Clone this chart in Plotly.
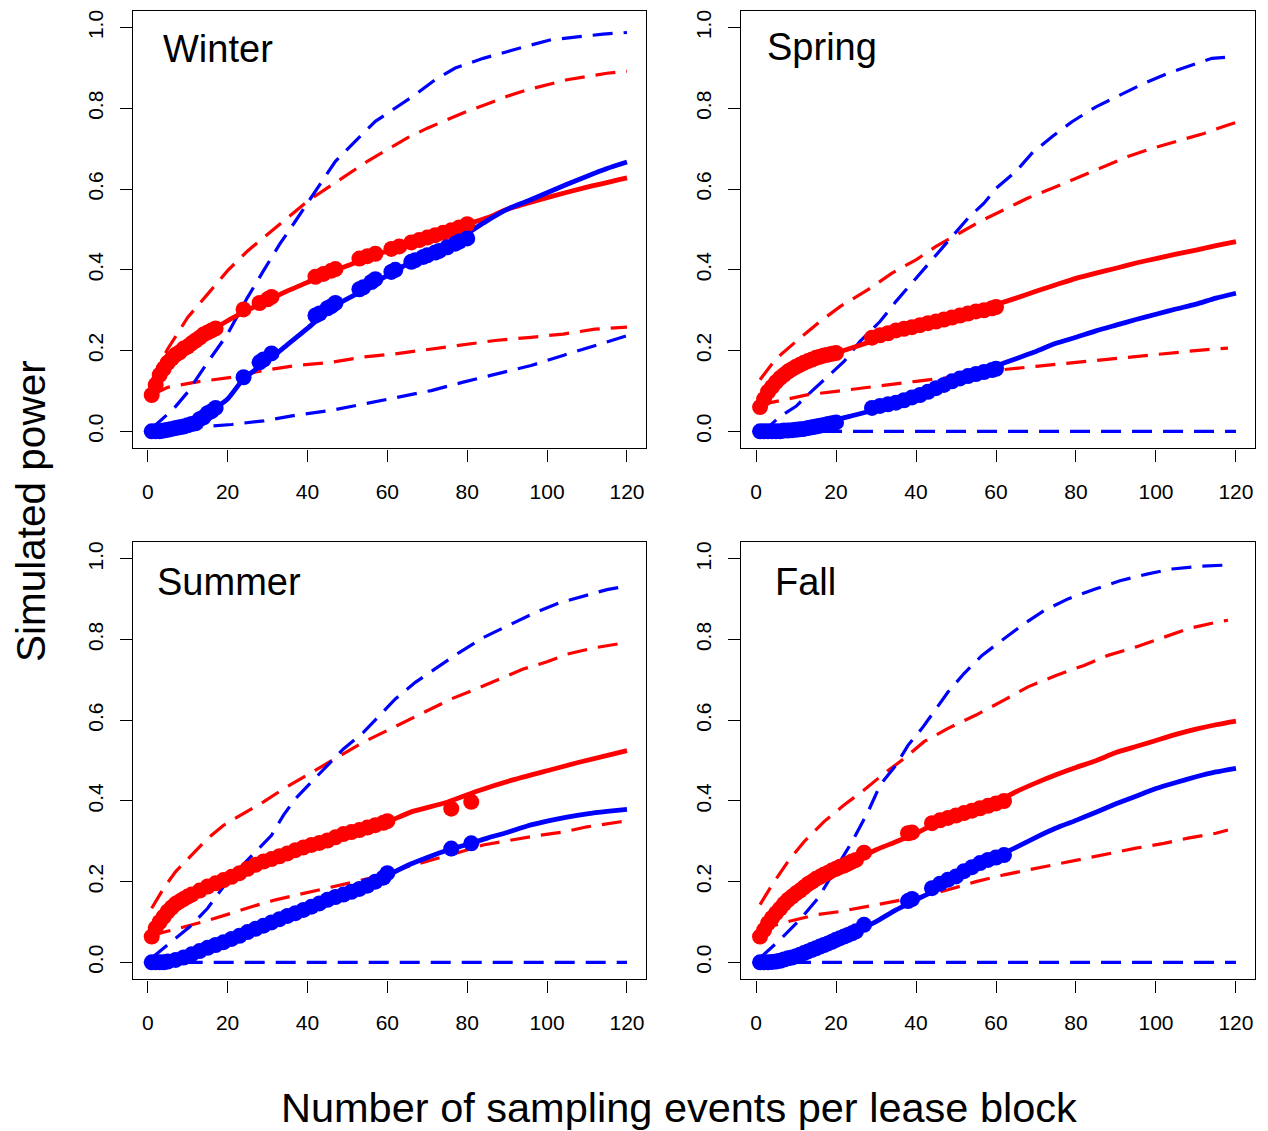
import plotly.graph_objects as go

SEASONS = ["Winter", "Spring", "Summer", "Fall"]
X_TICKS = [0, 20, 40, 60, 80, 100, 120]
Y_TICKS = [0.0, 0.2, 0.4, 0.6, 0.8, 1.0]
Y_TICK_TEXT = ["0.0", "0.2", "0.4", "0.6", "0.8", "1.0"]
X_TITLE = "Number of sampling events per lease block"
Y_TITLE = "Simulated power"

# ---------------- Winter ----------------
winter_red_x = [1, 3, 5, 8, 12, 16, 20, 25, 30, 35, 40, 45, 50, 55, 60, 65, 70, 75, 80, 85, 90, 100, 110, 120]
winter_red = [0.089, 0.14, 0.17, 0.196, 0.225, 0.25, 0.274, 0.30, 0.325, 0.348, 0.369, 0.393, 0.41, 0.43, 0.447, 0.464, 0.48, 0.496, 0.513, 0.529, 0.55, 0.579, 0.605, 0.628]
winter_blue_x = [1, 8, 15, 20, 24, 30, 35, 40, 45, 48, 55, 58, 62, 65, 70, 75, 80, 85, 90, 95, 100, 105, 110, 115, 120]
winter_blue = [0.0, 0.015, 0.045, 0.08, 0.13, 0.175, 0.215, 0.255, 0.298, 0.318, 0.355, 0.375, 0.397, 0.415, 0.435, 0.457, 0.49, 0.522, 0.55, 0.57, 0.591, 0.612, 0.632, 0.651, 0.667]
winter_red_up_x = [1, 3, 5, 8, 10, 15, 20, 25, 30, 35, 40, 45, 50, 55, 60, 65, 70, 75, 80, 85, 90, 95, 100, 105, 110, 115, 120]
winter_red_up = [0.125, 0.167, 0.204, 0.253, 0.282, 0.34, 0.398, 0.447, 0.488, 0.529, 0.57, 0.603, 0.636, 0.669, 0.698, 0.727, 0.751, 0.772, 0.793, 0.811, 0.83, 0.846, 0.858, 0.871, 0.879, 0.887, 0.892]
winter_red_lo_x = [1, 5, 12, 21, 29, 37, 46, 54, 62, 71, 79, 87, 96, 104, 112, 120]
winter_red_lo = [0.09, 0.109, 0.122, 0.134, 0.151, 0.163, 0.171, 0.184, 0.192, 0.204, 0.216, 0.225, 0.233, 0.241, 0.253, 0.258]
winter_blue_up_x = [1, 6.5, 10, 15, 20, 25, 29, 33, 37, 42, 47, 52, 57, 62, 67, 72, 77, 84, 90, 96, 101, 108, 114, 120]
winter_blue_up = [0.007, 0.056, 0.097, 0.171, 0.241, 0.332, 0.398, 0.463, 0.521, 0.595, 0.669, 0.719, 0.768, 0.801, 0.834, 0.871, 0.9, 0.924, 0.941, 0.957, 0.97, 0.978, 0.984, 0.988]
winter_blue_lo_x = [1, 12, 21, 29, 37, 46, 54, 62, 71, 79, 87, 96, 104, 112, 120]
winter_blue_lo = [0.002, 0.011, 0.017, 0.026, 0.04, 0.052, 0.068, 0.085, 0.101, 0.122, 0.142, 0.163, 0.188, 0.212, 0.237]
winter_red_pts_x = [1, 2, 3, 4, 5, 6, 7, 8, 9, 10, 11, 12, 13, 14, 15, 16, 17, 24, 28, 30, 31, 42, 44, 46, 47, 53, 55, 57, 61, 63, 66, 68, 70, 72, 74, 76, 78, 80]
winter_red_pts_y = [0.09, 0.115, 0.14, 0.155, 0.17, 0.18, 0.19, 0.196, 0.205, 0.21, 0.218, 0.225, 0.232, 0.24, 0.245, 0.25, 0.255, 0.302, 0.318, 0.327, 0.333, 0.383, 0.39, 0.398, 0.402, 0.428, 0.434, 0.44, 0.452, 0.458, 0.468, 0.474, 0.48, 0.486, 0.492, 0.498, 0.505, 0.513]
winter_blue_pts_x = [1, 2, 3, 4, 5, 6, 7, 8, 9, 10, 11, 12, 13, 14, 15, 16, 17, 24, 28, 29, 31, 42, 43, 45, 46, 47, 53, 54, 56, 57, 61, 62, 66, 67, 69, 70, 72, 73, 75, 77, 78, 80]
winter_blue_pts_y = [0.0, 0.0, 0.0, 0.002, 0.004, 0.006, 0.008, 0.01, 0.012, 0.015, 0.018, 0.02, 0.03, 0.035, 0.045, 0.05, 0.058, 0.134, 0.171, 0.178, 0.193, 0.287, 0.292, 0.305, 0.31, 0.318, 0.352, 0.357, 0.37, 0.377, 0.395, 0.4, 0.42, 0.424, 0.432, 0.436, 0.443, 0.447, 0.456, 0.465, 0.47, 0.478]

# ---------------- Spring ----------------
spring_red_x = [1, 3, 5, 8, 10, 15, 20, 25, 30, 35, 40, 45, 50, 55, 60, 65, 70, 75, 80, 85, 90, 95, 100, 105, 110, 115, 120]
spring_red = [0.062, 0.099, 0.124, 0.149, 0.161, 0.182, 0.194, 0.21, 0.227, 0.243, 0.26, 0.272, 0.285, 0.297, 0.314, 0.33, 0.347, 0.363, 0.379, 0.392, 0.404, 0.417, 0.428, 0.439, 0.449, 0.46, 0.47]
spring_blue_x = [1, 5, 10, 15, 20, 25, 30, 35, 40, 45, 50, 55, 60, 65, 70, 75, 80, 85, 90, 95, 100, 105, 110, 115, 120]
spring_blue = [0.0, 0.0, 0.004, 0.012, 0.029, 0.041, 0.054, 0.07, 0.087, 0.107, 0.128, 0.144, 0.162, 0.18, 0.198, 0.218, 0.233, 0.249, 0.263, 0.277, 0.29, 0.303, 0.315, 0.33, 0.342]
spring_red_up_x = [1, 5, 11, 16, 21, 28, 34, 40, 45, 50, 56, 62, 68, 75, 82, 88, 93, 99, 105, 112, 118, 120]
spring_red_up = [0.128, 0.18, 0.231, 0.272, 0.309, 0.351, 0.392, 0.425, 0.458, 0.487, 0.52, 0.549, 0.578, 0.606, 0.635, 0.66, 0.681, 0.701, 0.718, 0.738, 0.759, 0.765]
spring_red_lo_x = [1, 3, 7, 13, 20, 26, 33, 40, 47, 53, 62, 70, 78, 87, 95, 103, 112, 118]
spring_red_lo = [0.06, 0.07, 0.078, 0.091, 0.099, 0.107, 0.116, 0.124, 0.132, 0.14, 0.153, 0.161, 0.169, 0.177, 0.186, 0.194, 0.202, 0.206]
spring_blue_up_x = [1, 3, 6, 10, 13, 17, 22, 26, 31, 35, 40, 44, 48, 53, 57, 60, 65, 69, 74, 79, 85, 91, 97, 103, 109, 114, 118]
spring_blue_up = [0.0, 0.01, 0.037, 0.062, 0.091, 0.128, 0.173, 0.223, 0.272, 0.322, 0.38, 0.425, 0.47, 0.528, 0.565, 0.602, 0.644, 0.689, 0.73, 0.767, 0.804, 0.833, 0.862, 0.887, 0.908, 0.924, 0.927]
spring_blue_lo_x = [1, 40, 80, 120]
spring_blue_lo = [0.0, 0.0, 0.0, 0.0]
spring_red_pts_x = [1, 2, 3, 4, 5, 6, 7, 8, 9, 10, 11, 12, 13, 14, 15, 16, 17, 18, 19, 20, 29, 31, 33, 35, 37, 39, 41, 43, 45, 47, 49, 51, 53, 55, 57, 59, 60]
spring_red_pts_y = [0.06, 0.08, 0.098, 0.11, 0.122, 0.132, 0.14, 0.148, 0.154, 0.16, 0.165, 0.17, 0.174, 0.178, 0.182, 0.185, 0.188, 0.19, 0.192, 0.194, 0.232, 0.238, 0.243, 0.25, 0.254, 0.258, 0.263, 0.268, 0.272, 0.277, 0.282, 0.287, 0.292, 0.297, 0.3, 0.305, 0.308]
spring_blue_pts_x = [1, 2, 3, 4, 5, 6, 7, 8, 9, 10, 11, 12, 13, 14, 15, 16, 17, 18, 19, 20, 29, 31, 33, 35, 37, 39, 41, 43, 45, 47, 49, 51, 53, 55, 57, 59, 60]
spring_blue_pts_y = [0.0, 0.0, 0.0, 0.0, 0.0, 0.0, 0.002, 0.002, 0.003, 0.004, 0.005, 0.006, 0.008, 0.01, 0.012, 0.014, 0.016, 0.018, 0.02, 0.022, 0.058, 0.063, 0.067, 0.071, 0.077, 0.084, 0.09, 0.098, 0.107, 0.115, 0.124, 0.131, 0.137, 0.142, 0.147, 0.152, 0.155]

# ---------------- Summer ----------------
summer_red_x = [1, 4, 8, 12, 17, 23, 29, 35, 41, 46, 50, 54, 60, 66, 75, 83, 91, 100, 108, 120]
summer_red = [0.064, 0.109, 0.142, 0.167, 0.191, 0.216, 0.25, 0.27, 0.292, 0.305, 0.32, 0.328, 0.348, 0.373, 0.397, 0.426, 0.451, 0.475, 0.496, 0.525]
summer_blue_x = [1, 5, 10, 15, 20, 25, 30, 35, 40, 45, 50, 55, 60, 65, 70, 75, 80, 85, 90, 95, 100, 105, 110, 115, 120]
summer_blue = [0.0, 0.002, 0.015, 0.036, 0.054, 0.075, 0.095, 0.115, 0.134, 0.155, 0.172, 0.19, 0.215, 0.24, 0.26, 0.278, 0.292, 0.308, 0.322, 0.338, 0.35, 0.36, 0.368, 0.374, 0.379]
summer_red_up_x = [1, 4, 7, 11, 15, 19, 24, 29, 34, 39, 44, 49, 54, 59, 65, 71, 76, 82, 88, 94, 100, 105, 112, 120]
summer_red_up = [0.134, 0.184, 0.225, 0.266, 0.307, 0.34, 0.369, 0.398, 0.43, 0.459, 0.488, 0.517, 0.546, 0.57, 0.599, 0.628, 0.653, 0.677, 0.702, 0.727, 0.745, 0.764, 0.78, 0.793]
summer_red_lo_x = [1, 3, 8, 14, 21, 26, 32, 39, 46, 52, 59, 65, 71, 77, 84, 91, 98, 104, 110, 118, 120]
summer_red_lo = [0.062, 0.072, 0.085, 0.101, 0.122, 0.138, 0.155, 0.171, 0.188, 0.2, 0.216, 0.237, 0.253, 0.27, 0.291, 0.303, 0.315, 0.323, 0.336, 0.348, 0.35]
summer_blue_up_x = [1, 6.5, 10.6, 15, 19, 23, 27, 31, 34, 37, 41, 45, 49, 54, 58, 62, 67, 72, 78, 84, 90, 97, 103, 109, 115, 120]
summer_blue_up = [0.011, 0.056, 0.089, 0.134, 0.188, 0.233, 0.274, 0.315, 0.365, 0.406, 0.447, 0.488, 0.529, 0.57, 0.612, 0.653, 0.694, 0.727, 0.768, 0.805, 0.834, 0.867, 0.891, 0.908, 0.924, 0.933]
summer_blue_lo_x = [1, 40, 80, 120]
summer_blue_lo = [0.0, 0.0, 0.0, 0.0]
summer_red_pts_x = [1, 2, 3, 4, 5, 6, 7, 8, 9, 10, 11, 13, 15, 17, 19, 21, 23, 25, 27, 29, 31, 33, 35, 37, 39, 41, 43, 45, 47, 49, 51, 53, 55, 57, 59, 60, 76, 81]
summer_red_pts_y = [0.064, 0.085, 0.1, 0.113, 0.126, 0.136, 0.145, 0.151, 0.157, 0.163, 0.168, 0.178, 0.188, 0.196, 0.204, 0.212, 0.221, 0.232, 0.242, 0.25, 0.256, 0.263, 0.27, 0.278, 0.285, 0.291, 0.296, 0.302, 0.31, 0.318, 0.323, 0.328, 0.334, 0.34, 0.346, 0.35, 0.381, 0.398]
summer_blue_pts_x = [1, 2, 3, 4, 5, 7, 9, 11, 13, 15, 17, 19, 21, 23, 25, 27, 29, 31, 33, 35, 37, 39, 41, 43, 45, 47, 49, 51, 53, 55, 57, 59, 60, 76, 81]
summer_blue_pts_y = [0.0, 0.0, 0.0, 0.0, 0.002, 0.006, 0.012, 0.02, 0.028, 0.036, 0.043, 0.05, 0.058, 0.066, 0.075, 0.083, 0.091, 0.099, 0.107, 0.115, 0.122, 0.13, 0.138, 0.146, 0.155, 0.162, 0.168, 0.175, 0.182, 0.19, 0.2, 0.21, 0.221, 0.282, 0.295]

# ---------------- Fall ----------------
fall_red_x = [1, 3, 5, 8, 10, 15, 20, 25, 30, 35, 40, 45, 50, 55, 60, 65, 70, 75, 80, 85, 90, 95, 100, 105, 110, 115, 120]
fall_red = [0.064, 0.097, 0.122, 0.155, 0.171, 0.209, 0.233, 0.254, 0.279, 0.299, 0.32, 0.345, 0.361, 0.378, 0.398, 0.423, 0.445, 0.465, 0.483, 0.5, 0.52, 0.535, 0.55, 0.565, 0.578, 0.589, 0.598]
fall_blue_x = [1, 5, 10, 15, 20, 25, 30, 35, 40, 45, 50, 55, 60, 65, 70, 75, 80, 85, 90, 95, 100, 105, 110, 115, 120]
fall_blue = [0.0, 0.002, 0.015, 0.035, 0.056, 0.077, 0.101, 0.13, 0.155, 0.18, 0.204, 0.233, 0.262, 0.285, 0.31, 0.333, 0.352, 0.372, 0.393, 0.412, 0.431, 0.446, 0.46, 0.472, 0.481]
fall_red_up_x = [1, 4, 8, 12, 17, 22, 27, 32, 37, 42, 48, 55, 62, 68, 75, 82, 88, 95, 102, 108, 115, 118]
fall_red_up = [0.143, 0.192, 0.25, 0.299, 0.349, 0.39, 0.427, 0.468, 0.505, 0.547, 0.58, 0.613, 0.65, 0.683, 0.711, 0.736, 0.761, 0.782, 0.806, 0.827, 0.843, 0.848]
fall_red_lo_x = [1, 2, 8, 15, 21, 28, 35, 41, 48, 55, 62, 68, 75, 82, 88, 95, 102, 108, 115, 118]
fall_red_lo = [0.075, 0.085, 0.101, 0.118, 0.126, 0.139, 0.151, 0.163, 0.18, 0.2, 0.217, 0.229, 0.242, 0.258, 0.27, 0.283, 0.295, 0.308, 0.32, 0.328]
fall_blue_up_x = [1, 6, 11, 15.5, 20, 24, 28, 31, 35, 38, 41.5, 45, 48, 52, 56.5, 62, 67, 72, 78, 85, 91, 98, 104, 111, 118]
fall_blue_up = [0.011, 0.056, 0.106, 0.159, 0.233, 0.299, 0.373, 0.439, 0.489, 0.538, 0.58, 0.629, 0.67, 0.716, 0.761, 0.802, 0.839, 0.872, 0.901, 0.926, 0.946, 0.963, 0.975, 0.982, 0.985]
fall_blue_lo_x = [1, 40, 80, 120]
fall_blue_lo = [0.0, 0.0, 0.0, 0.0]
fall_red_pts_x = [1, 2, 3, 4, 5, 6, 7, 8, 9, 10, 11, 12, 13, 14, 15, 16, 17, 18, 19, 20, 21, 22, 23, 24, 25, 27, 38, 39, 44, 46, 48, 50, 52, 54, 56, 58, 60, 62]
fall_red_pts_y = [0.064, 0.08, 0.097, 0.11, 0.122, 0.133, 0.145, 0.155, 0.163, 0.171, 0.178, 0.186, 0.194, 0.2, 0.207, 0.212, 0.218, 0.222, 0.228, 0.232, 0.237, 0.24, 0.245, 0.25, 0.254, 0.272, 0.32, 0.322, 0.345, 0.352, 0.358, 0.364, 0.37, 0.376, 0.382, 0.388, 0.394, 0.4]
fall_blue_pts_x = [1, 2, 3, 4, 5, 6, 7, 8, 9, 10, 11, 12, 13, 14, 15, 16, 17, 18, 19, 20, 21, 22, 23, 24, 25, 27, 38, 39, 44, 46, 48, 50, 52, 54, 56, 58, 60, 62]
fall_blue_pts_y = [0.0, 0.0, 0.0, 0.001, 0.002, 0.004, 0.007, 0.01, 0.012, 0.015, 0.019, 0.023, 0.027, 0.031, 0.035, 0.039, 0.043, 0.047, 0.051, 0.056, 0.06, 0.064, 0.068, 0.072, 0.077, 0.093, 0.152, 0.157, 0.184, 0.195, 0.205, 0.213, 0.226, 0.236, 0.246, 0.254, 0.26, 0.266]

LABEL_X = [3.3, 2.3, 1.7, 4.3]
LABEL_Y = [0.946, 0.952, 0.943, 0.944]

panels = [
    dict(red_x=winter_red_x, red=winter_red, blue_x=winter_blue_x, blue=winter_blue,
         ru_x=winter_red_up_x, ru=winter_red_up, rl_x=winter_red_lo_x, rl=winter_red_lo,
         bu_x=winter_blue_up_x, bu=winter_blue_up, bl_x=winter_blue_lo_x, bl=winter_blue_lo,
         rp_x=winter_red_pts_x, rp=winter_red_pts_y, bp_x=winter_blue_pts_x, bp=winter_blue_pts_y),
    dict(red_x=spring_red_x, red=spring_red, blue_x=spring_blue_x, blue=spring_blue,
         ru_x=spring_red_up_x, ru=spring_red_up, rl_x=spring_red_lo_x, rl=spring_red_lo,
         bu_x=spring_blue_up_x, bu=spring_blue_up, bl_x=spring_blue_lo_x, bl=spring_blue_lo,
         rp_x=spring_red_pts_x, rp=spring_red_pts_y, bp_x=spring_blue_pts_x, bp=spring_blue_pts_y),
    dict(red_x=summer_red_x, red=summer_red, blue_x=summer_blue_x, blue=summer_blue,
         ru_x=summer_red_up_x, ru=summer_red_up, rl_x=summer_red_lo_x, rl=summer_red_lo,
         bu_x=summer_blue_up_x, bu=summer_blue_up, bl_x=summer_blue_lo_x, bl=summer_blue_lo,
         rp_x=summer_red_pts_x, rp=summer_red_pts_y, bp_x=summer_blue_pts_x, bp=summer_blue_pts_y),
    dict(red_x=fall_red_x, red=fall_red, blue_x=fall_blue_x, blue=fall_blue,
         ru_x=fall_red_up_x, ru=fall_red_up, rl_x=fall_red_lo_x, rl=fall_red_lo,
         bu_x=fall_blue_up_x, bu=fall_blue_up, bl_x=fall_blue_lo_x, bl=fall_blue_lo,
         rp_x=fall_red_pts_x, rp=fall_red_pts_y, bp_x=fall_blue_pts_x, bp=fall_blue_pts_y),
]

# The page body adds an 8px margin, so the figure is made 8px smaller and
# every page position is shifted by that margin.
OFF = 8
W, H = 1268 - OFF, 1131 - OFF
# panel boxes in page pixels: (left, right, top, bottom)
boxes = [(132.7, 646, 10.7, 448.3), (741, 1255, 10.7, 448.3),
         (132.7, 646, 542, 979.3), (741, 1255, 542, 979.3)]

RED = "#FF0000"
BLUE = "#0000FF"
DASH = "20px,11px"
FONT = "Liberation Sans, Arial, Helvetica, sans-serif"

fig = go.Figure()
layout = dict(width=W, height=H, margin=dict(l=0, r=0, t=0, b=0),
              paper_bgcolor="white", plot_bgcolor="white", showlegend=False,
              font=dict(family=FONT, color="black"))
annotations = []

for i, (p, box) in enumerate(zip(panels, boxes)):
    n = "" if i == 0 else str(i + 1)
    xa, ya = "x" + n, "y" + n
    common = dict(xaxis=xa, yaxis=ya, hoverinfo="skip")
    fig.add_trace(go.Scatter(x=p["ru_x"], y=p["ru"], mode="lines", line=dict(color=RED, width=3.2, dash=DASH), **common))
    fig.add_trace(go.Scatter(x=p["rl_x"], y=p["rl"], mode="lines", line=dict(color=RED, width=3.2, dash=DASH), **common))
    fig.add_trace(go.Scatter(x=p["bu_x"], y=p["bu"], mode="lines", line=dict(color=BLUE, width=3.2, dash=DASH), **common))
    fig.add_trace(go.Scatter(x=p["bl_x"], y=p["bl"], mode="lines", line=dict(color=BLUE, width=3.2, dash=DASH), **common))
    fig.add_trace(go.Scatter(x=p["red_x"], y=p["red"], mode="lines", line=dict(color=RED, width=4.8, shape="spline", smoothing=0.5), **common))
    fig.add_trace(go.Scatter(x=p["blue_x"], y=p["blue"], mode="lines", line=dict(color=BLUE, width=4.8, shape="spline", smoothing=0.5), **common))
    fig.add_trace(go.Scatter(x=p["rp_x"], y=p["rp"], mode="markers", marker=dict(color=RED, size=16, line=dict(width=0)), **common))
    fig.add_trace(go.Scatter(x=p["bp_x"], y=p["bp"], mode="markers", marker=dict(color=BLUE, size=16, line=dict(width=0)), **common))

    left, right, top, bottom = (v - OFF for v in box)
    axis_common = dict(showline=True, mirror=True, linecolor="black", linewidth=1.4,
                       ticks="outside", ticklen=12, tickwidth=1.4, tickcolor="black",
                       showgrid=False, zeroline=False, automargin=False,
                       tickfont=dict(family=FONT, size=21, color="black"))
    layout["xaxis" + n] = dict(domain=[left / W, right / W], range=[-3.76, 124.76],
                               tickvals=X_TICKS, anchor=ya, ticklabelstandoff=12, **axis_common)
    layout["yaxis" + n] = dict(domain=[1 - bottom / H, 1 - top / H], range=[-0.042, 1.042],
                               tickvals=Y_TICKS, ticktext=Y_TICK_TEXT, tickangle=-90,
                               anchor=xa, ticklabelstandoff=8, **axis_common)
    annotations.append(dict(text=SEASONS[i], x=LABEL_X[i], y=LABEL_Y[i], xref=xa, yref=ya,
                            xanchor="left", yanchor="middle", showarrow=False,
                            font=dict(family=FONT, size=38, color="black")))

annotations.append(dict(text=Y_TITLE, x=(31 - OFF) / W, y=1 - (511 - OFF) / H, xref="paper", yref="paper",
                        textangle=-90, xanchor="center", yanchor="middle", showarrow=False,
                        borderpad=0, font=dict(family=FONT, size=40.5, color="black")))
annotations.append(dict(text=X_TITLE, x=(679 - OFF) / W, y=1 - (1107 - OFF) / H, xref="paper", yref="paper",
                        xanchor="center", yanchor="middle", showarrow=False,
                        borderpad=0, font=dict(family=FONT, size=41.5, color="black")))
layout["annotations"] = annotations
fig.update_layout(**layout)
fig.write_html("out.html")
